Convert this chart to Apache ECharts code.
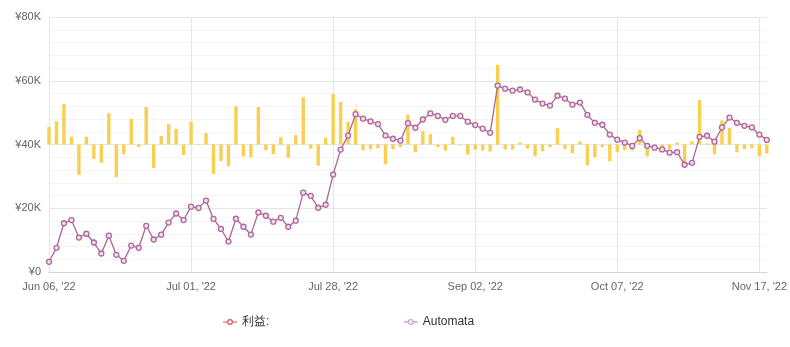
<!DOCTYPE html>
<html>
<head>
<meta charset="utf-8">
<script src="https://cdn.jsdelivr.net/npm/echarts@6/dist/echarts.min.js"></script>
<style>html,body{margin:0;padding:0;background:#fff}#c{width:790px;height:347px}</style>
</head>
<body>
<div id="c"></div>
<script>
const dates = [
 '2022-06-06','2022-06-07','2022-06-08','2022-06-09','2022-06-10','2022-06-13','2022-06-14','2022-06-15','2022-06-16','2022-06-17',
 '2022-06-20','2022-06-21','2022-06-22','2022-06-23','2022-06-24','2022-06-27','2022-06-28','2022-06-29','2022-06-30','2022-07-01',
 '2022-07-04','2022-07-05','2022-07-06','2022-07-07','2022-07-08','2022-07-11','2022-07-12','2022-07-13','2022-07-14','2022-07-15',
 '2022-07-18','2022-07-19','2022-07-20','2022-07-21','2022-07-22','2022-07-25','2022-07-26','2022-07-27','2022-07-28','2022-07-29',
 '2022-08-01','2022-08-02','2022-08-03','2022-08-04','2022-08-05','2022-08-17','2022-08-18','2022-08-19','2022-08-22','2022-08-23',
 '2022-08-24','2022-08-25','2022-08-26','2022-08-29','2022-08-30','2022-08-31','2022-09-01','2022-09-02','2022-09-05','2022-09-06',
 '2022-09-07','2022-09-08','2022-09-09','2022-09-12','2022-09-13','2022-09-14','2022-09-15','2022-09-16','2022-09-20','2022-09-21',
 '2022-09-22','2022-09-26','2022-09-27','2022-09-28','2022-10-05','2022-10-06','2022-10-07','2022-10-11','2022-10-12','2022-10-13',
 '2022-10-17','2022-10-18','2022-10-19','2022-10-20','2022-10-24','2022-10-25','2022-10-26','2022-10-31','2022-11-01','2022-11-02',
 '2022-11-07','2022-11-08','2022-11-09','2022-11-14','2022-11-15','2022-11-17','2022-11-18'
];
const profit = [
 3430, 4570, 7900, 1510, -5940, 1510, -2800, -3590, 6130, -6410,
 -1900, 5040, -490, 7310, -4610, 1670, 4020, 3040, -2060, 4410,
 -100, 2200, -5740, -3230, -4250, 7510, -2290, -2510, 7310, -1100,
 -1900, 1430, -2610, 1820, 9250, -840, -4120, 1310, 9900, 8330,
 4410, 6920, -1120, -920, -730, -3860, -920, -530, 5820, -1510,
 2610, 2020, -530, -1180, 1510, -140, -1960, -1040, -1180, -1370,
 15620, -980, -980, 430, -780, -2290, -1310, -530, 3190, -880,
 -1710, 590, -4080, -2490, -530, -3270, -1510, -1100, -1180, 2840,
 -2290, -290, -780, -880, 390, -3980, 630, 8720, 250, -1920,
 4740, 3230, -1510, -920, -730, -2310, -1720
];
const automata = [
 3200, 7600, 15300, 16300, 10800, 12000, 9250, 5800, 11400, 5400,
 3500, 8300, 7600, 14500, 10200, 11700, 15500, 18350, 16300, 20500,
 20100, 22400, 16650, 13500, 9550, 16700, 14200, 11750, 18700, 17650,
 15800, 17000, 14200, 16100, 24900, 23900, 20150, 21100, 30550, 38400,
 42800, 49500, 48100, 47250, 46400, 42800, 41800, 41200, 46700, 45250,
 47850, 49750, 48950, 47750, 48950, 48950, 47150, 46100, 44950, 43650,
 58500, 57500, 56900, 57250, 56350, 54100, 52850, 52200, 55300, 54400,
 52500, 53150, 49300, 46800, 46200, 43100, 41500, 40600, 39550, 42000,
 39600, 39000, 38450, 37450, 37600, 33650, 34250, 42400, 42750, 40900,
 45350, 48450, 46800, 45850, 45350, 43100, 41450
];
const yTicks = [0, 20000, 40000, 60000, 80000];
const seriesNames = ['利益:', 'Automata'];

const MONTHS = ['Jan','Feb','Mar','Apr','May','Jun','Jul','Aug','Sep','Oct','Nov','Dec'];
function fmtDate(s) {
  const [y, m, d] = s.split('-');
  return MONTHS[+m - 1] + ' ' + d + ", '" + y.slice(2);
}
const font = 'Arial, "Liberation Sans", sans-serif';
const ringIcon = 'path://M0,3.4h4.2v1.2h-4.2z M9.8,3.4h4.2v1.2h-4.2z M4,4a3,3 0 1,0 6,0a3,3 0 1,0 -6,0z M5.3,4a1.7,1.7 0 1,1 3.4,0a1.7,1.7 0 1,1 -3.4,0z';

const chart = echarts.init(document.getElementById('c'), null, {renderer: 'canvas'});
chart.setOption({
  animation: false,
  backgroundColor: '#ffffff',
  grid: {left: 49, right: 9, top: 17, bottom: 75},
  legend: [
    {
      left: 218, top: 311, itemWidth: 14, itemHeight: 6, itemGap: 10,
      textStyle: {fontSize: 12, color: '#333333', fontFamily: font},
      data: [{name: seriesNames[0], icon: ringIcon, itemStyle: {color: '#d9534f'}}]
    },
    {
      left: 398, top: 311, itemWidth: 14, itemHeight: 6, itemGap: 10,
      textStyle: {fontSize: 12, color: '#333333', fontFamily: font},
      data: [{name: seriesNames[1], itemStyle: {color: '#ffffff', borderColor: '#c9a3cb', borderWidth: 1.2}, lineStyle: {color: '#c9a3cb', width: 1.5}}]
    }
  ],
  xAxis: {
    type: 'category',
    data: dates,
    boundaryGap: false,
    axisLine: {lineStyle: {color: '#ccd6eb', width: 1}},
    axisTick: {show: false},
    axisLabel: {
      interval: 18, margin: 9, color: '#666666', fontSize: 11, fontFamily: font,
      formatter: v => fmtDate(v)
    },
    splitLine: {show: true, interval: 18, lineStyle: {color: '#e6e6e6', width: 1}}
  },
  yAxis: [
    {
      type: 'value', min: yTicks[0], max: yTicks[yTicks.length - 1], interval: 20000,
      axisLine: {show: false}, axisTick: {show: false},
      axisLabel: {
        margin: 8, color: '#666666', fontSize: 11, fontFamily: font,
        formatter: v => v === 0 ? '¥0' : '¥' + (v / 1000) + 'K'
      },
      splitLine: {lineStyle: {color: '#e6e6e6', width: 1}},
      minorTick: {show: false, splitNumber: 5},
      minorSplitLine: {show: true, lineStyle: {color: '#f4f4f4', width: 1}}
    },
    {
      type: 'value', min: -25000, max: 25000, show: false,
      splitLine: {show: false}
    }
  ],
  series: [
    {
      name: seriesNames[0],
      type: 'bar',
      yAxisIndex: 1,
      data: profit,
      barWidth: 3.4,
      clip: false,
      itemStyle: {color: '#f8cf4e'},
      z: 2
    },
    {
      name: seriesNames[1],
      type: 'line',
      data: automata,
      symbol: 'circle',
      symbolSize: 5,
      showAllSymbol: true,
      lineStyle: {color: '#ae6596', width: 1.3},
      itemStyle: {color: '#f3dfec', borderColor: '#b0679a', borderWidth: 1.3},
      z: 3
    }
  ]
});
</script>
</body>
</html>
